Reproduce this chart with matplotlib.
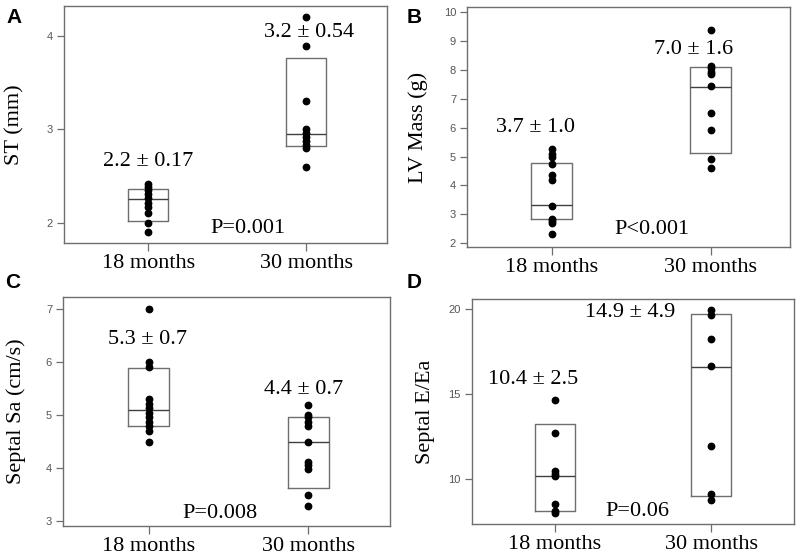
"""
Four-panel box/dot chart: 18 vs 30 months
"""
import matplotlib
matplotlib.use("Agg")
import matplotlib.pyplot as plt

plt.rcParams["font.family"] = ["Liberation Serif", "DejaVu Serif"]

groups = ["18 months", "30 months"]
positions = [1, 2]

# A: ST (mm)
st_18 = [2.41, 2.38, 2.35, 2.31, 2.26, 2.21, 2.17, 2.10, 2.00, 1.90]
st_30 = [4.20, 3.89, 3.30, 3.00, 2.96, 2.92, 2.88, 2.83, 2.80, 2.60]
st_box = [(2.02, 2.25, 2.36), (2.82, 2.95, 3.76)]   # q1, median, q3

# B: LV mass (g)
lv_18 = [5.25, 5.10, 5.00, 4.75, 4.35, 4.20, 3.30, 2.85, 2.75, 2.70, 2.30]
lv_30 = [9.39, 8.15, 8.05, 7.94, 7.85, 7.44, 6.50, 5.93, 4.90, 4.59]
lv_box = [(2.84, 3.32, 4.76), (5.13, 7.42, 8.11)]

# C: Septal Sa (cm/s)
sa_18 = [7.0, 6.0, 5.9, 5.3, 5.22, 5.13, 5.05, 4.96, 4.87, 4.8, 4.7, 4.5]
sa_30 = [5.2, 5.0, 4.96, 4.88, 4.8, 4.5, 4.11, 4.06, 3.98, 3.5, 3.29]
sa_box = [(4.8, 5.09, 5.89), (3.62, 4.5, 4.97)]

# D: Septal E/Ea
ee_18 = [14.65, 12.72, 10.47, 10.33, 10.19, 8.56, 8.15, 8.03]
ee_30 = [19.96, 19.63, 18.21, 16.65, 11.98, 9.16, 8.77]
ee_box = [(8.15, 10.18, 13.25), (9.03, 16.61, 19.71)]

panels = [
    dict(letter="A", ylabel="ST (mm)", data=[st_18, st_30], box=st_box,
         ylim=(1.78, 4.32), yticks=[2, 3, 4], xlim=(0.465, 2.515),
         rect=[0.080, 0.564, 0.404, 0.425], ylab_x=-0.121,
         notes=[(1, 2.66, "2.2 \u00b1 0.17"), (2.017, 4.04, "3.2 \u00b1 0.54"),
                (1.634, 1.94, "P=0.001")]),
    dict(letter="B", ylabel="LV Mass (g)", data=[lv_18, lv_30], box=lv_box,
         ylim=(1.86, 10.17), yticks=[2, 3, 4, 5, 6, 7, 8, 9, 10], xlim=(0.47, 2.5),
         rect=[0.584, 0.557, 0.404, 0.430], ylab_x=-0.121,
         notes=[(0.90, 5.99, "3.7 \u00b1 1.0"), (1.894, 8.70, "7.0 \u00b1 1.6"),
                (1.63, 2.49, "P<0.001")]),
    dict(letter="C", ylabel="Septal Sa (cm/s)", data=[sa_18, sa_30], box=sa_box,
         ylim=(2.92, 7.23), yticks=[3, 4, 5, 6, 7], xlim=(0.465, 2.515),
         rect=[0.079, 0.058, 0.409, 0.410], ylab_x=-0.113,
         notes=[(0.996, 6.42, "5.3 \u00b1 0.7"), (1.969, 5.49, "4.4 \u00b1 0.7"),
                (1.446, 3.14, "P=0.008")]),
    dict(letter="D", ylabel="Septal E/Ea", data=[ee_18, ee_30], box=ee_box,
         ylim=(7.38, 20.58), yticks=[10, 15, 20], xlim=(0.47, 2.53),
         rect=[0.590, 0.061, 0.403, 0.403], ylab_x=-0.115,
         notes=[(0.861, 15.88, "10.4 \u00b1 2.5"), (1.482, 19.77, "14.9 \u00b1 4.9"),
                (1.525, 8.09, "P=0.06")]),
]

fig = plt.figure(figsize=(8, 5.58), dpi=100)
gray = "#6e6e6e"

for p in panels:
    ax = fig.add_axes(p["rect"])
    stats = []
    for q1, med, q3 in p["box"]:
        stats.append(dict(q1=q1, med=med, q3=q3, whislo=q1, whishi=q3))
    ax.bxp(stats, positions=positions, widths=0.255, showcaps=False,
           showfliers=False, boxprops=dict(color=gray, linewidth=1.0),
           medianprops=dict(color="#404040", linewidth=1.0),
           whiskerprops=dict(linewidth=0))
    for x, vals in zip(positions, p["data"]):
        ax.plot([x] * len(vals), vals, "o", color="black", ms=4.6, zorder=3)

    ax.set_xlim(*p["xlim"])
    ax.set_ylim(*p["ylim"])
    ax.set_yticks(p["yticks"])
    ax.set_xticks(positions)
    ax.set_xticklabels(groups, fontsize=16)
    for lbl in ax.get_yticklabels():
        lbl.set_family(["Liberation Sans", "DejaVu Sans"])
        lbl.set_fontsize(8)
        lbl.set_color("#555555")
    ax.tick_params(axis="y", length=5, width=0.9, color=gray, pad=3)
    ax.tick_params(axis="x", length=6, width=0.9, color=gray, pad=2)
    for s in ax.spines.values():
        s.set_color(gray)
        s.set_linewidth(1.0)
    ax.set_ylabel(p["ylabel"], fontsize=16)
    ax.yaxis.set_label_coords(p["ylab_x"], 0.5)
    for x, y, t in p["notes"]:
        ax.text(x, y, t, fontsize=16, ha="center", va="center")

for letter, x, y in [("A", 0.018, 0.968), ("B", 0.518, 0.968),
                     ("C", 0.016, 0.493), ("D", 0.518, 0.493)]:
    fig.text(x, y, letter, fontsize=15, fontweight="bold",
             family=["Liberation Sans", "DejaVu Sans"], ha="center", va="center")

plt.savefig("out.png", dpi=100)
